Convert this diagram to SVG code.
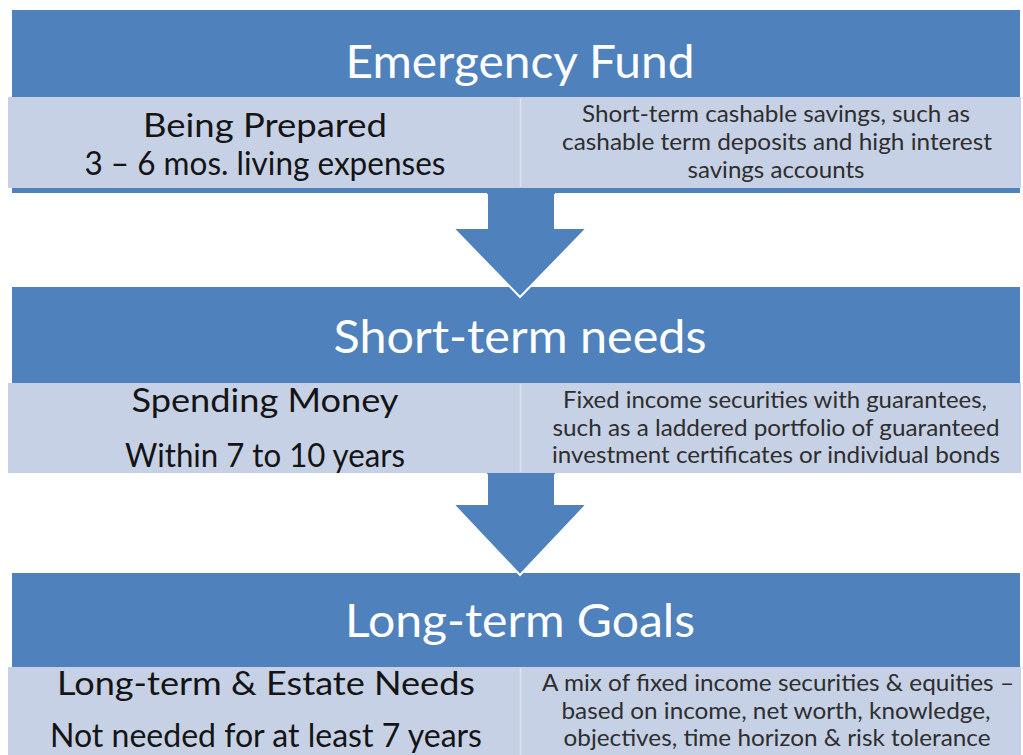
<svg xmlns="http://www.w3.org/2000/svg" width="1023" height="755" viewBox="0 0 1023 755">
  <style>
    .hdr { fill: #4F81BD; }
    .row { fill: #C6D1E5; }
    .split { stroke: #DCE3F0; stroke-width: 1.5; }
    .title { font-family: Lato, "Liberation Sans", sans-serif; fill: #FFFFFF; text-anchor: middle; font-size: 46px; }
    .main { font-family: Lato, "Liberation Sans", sans-serif; fill: #141414; text-anchor: middle; font-size: 33px; }
    .note { font-family: Lato, "Liberation Sans", sans-serif; fill: #2E2E2E; text-anchor: middle; font-size: 23px; }
    .arrow { fill: #4F81BD; }
    .edge { fill: none; stroke: #FFFFFF; stroke-width: 2; stroke-linejoin: miter; }
  </style>
  <rect width="1023" height="755" fill="#FFFFFF"/>

  <!-- Tier 1 -->
  <g id="emergency-fund">
    <rect class="hdr" x="12" y="10" width="1008" height="183"/>
    <rect class="row" x="8" y="97" width="1013" height="91"/>
    <line class="split" x1="520.5" y1="98" x2="520.5" y2="187"/>
    <text class="title" x="520" y="78" textLength="349" lengthAdjust="spacingAndGlyphs">Emergency Fund</text>
    <text class="main" x="265" y="137" textLength="244" lengthAdjust="spacingAndGlyphs">Being Prepared</text>
    <text class="main" x="265" y="175" textLength="361" lengthAdjust="spacingAndGlyphs">3 – 6 mos. living expenses</text>
    <text class="note" x="776" y="122" textLength="388" lengthAdjust="spacingAndGlyphs">Short-term cashable savings, such as</text>
    <text class="note" x="777" y="150" textLength="430" lengthAdjust="spacingAndGlyphs">cashable term deposits and high interest</text>
    <text class="note" x="776" y="178" textLength="177" lengthAdjust="spacingAndGlyphs">savings accounts</text>
  </g>

  <!-- Tier 2 -->
  <g id="short-term-needs">
    <rect class="hdr" x="12" y="287" width="1008" height="96"/>
    <rect class="row" x="8" y="383" width="1013" height="90"/>
    <line class="split" x1="520.5" y1="384" x2="520.5" y2="472"/>
    <text class="title" x="520" y="353" textLength="373" lengthAdjust="spacingAndGlyphs">Short-term needs</text>
    <text class="main" x="265" y="412" textLength="267" lengthAdjust="spacingAndGlyphs">Spending Money</text>
    <text class="main" x="265" y="467" textLength="280" lengthAdjust="spacingAndGlyphs">Within 7 to 10 years</text>
    <text class="note" x="775" y="408" textLength="424" lengthAdjust="spacingAndGlyphs">Fixed income securities with guarantees,</text>
    <text class="note" x="776" y="436" textLength="447" lengthAdjust="spacingAndGlyphs">such as a laddered portfolio of guaranteed</text>
    <text class="note" x="776" y="463" textLength="448" lengthAdjust="spacingAndGlyphs">investment certificates or individual bonds</text>
  </g>

  <!-- Tier 3 -->
  <g id="long-term-goals">
    <rect class="hdr" x="12" y="573" width="1008" height="95"/>
    <rect class="row" x="8" y="667" width="1013" height="88"/>
    <line class="split" x1="520.5" y1="668" x2="520.5" y2="755"/>
    <text class="title" x="520" y="637" textLength="350" lengthAdjust="spacingAndGlyphs">Long-term Goals</text>
    <text class="main" x="266" y="695" textLength="418" lengthAdjust="spacingAndGlyphs">Long-term &amp; Estate Needs</text>
    <text class="main" x="266" y="747" font-size="31" textLength="432" lengthAdjust="spacingAndGlyphs">Not needed  for at least 7 years</text>
    <text class="note" x="778" y="691" textLength="472" lengthAdjust="spacingAndGlyphs">A mix of fixed income securities &amp; equities –</text>
    <text class="note" x="776" y="719" textLength="429" lengthAdjust="spacingAndGlyphs">based on income, net worth, knowledge,</text>
    <text class="note" x="777" y="746" textLength="427" lengthAdjust="spacingAndGlyphs">objectives, time horizon &amp; risk tolerance</text>
  </g>

  <!-- Flow arrows between tiers -->
  <g id="connectors">
    <polygon class="arrow" points="487,193 555,193 555,228 587,228 520,297 453,228 487,228"/>
    <polyline class="edge" points="487,194 487,228 453,228 520,297 587,228 555,228 555,194"/>
    <polygon class="arrow" points="487,473 555,473 555,504 587,504 520,575 453,504 487,504"/>
    <polyline class="edge" points="487,474 487,504 453,504 520,575 587,504 555,504 555,474"/>
  </g>
</svg>
